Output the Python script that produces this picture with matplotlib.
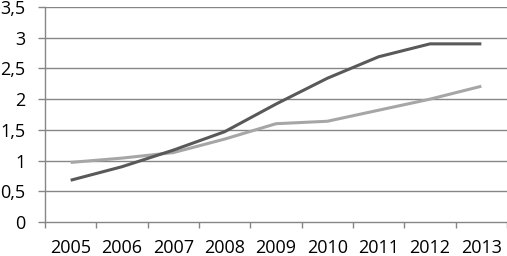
import matplotlib
matplotlib.use("Agg")
import matplotlib.pyplot as plt
from matplotlib.ticker import FixedLocator

years = ["2005", "2006", "2007", "2008", "2009", "2010", "2011", "2012", "2013"]
dark_series = [0.68, 0.90, 1.17, 1.47, 1.92, 2.34, 2.69, 2.90, 2.90]
light_series = [0.97, 1.04, 1.13, 1.35, 1.60, 1.64, 1.82, 2.00, 2.21]
y_ticks = [0, 0.5, 1, 1.5, 2, 2.5, 3, 3.5]
y_labels = ["0", "0,5", "1", "1,5", "2", "2,5", "3", "3,5"]

plt.rcParams['font.family'] = ['Open Sans', 'DejaVu Sans']
fig = plt.figure(figsize=(5.07, 2.56), dpi=100)
ax = fig.add_axes([45/507, 34/256, 462/507, 215/256])

x = list(range(len(years)))
ax.plot(x, light_series, color="#a6a6a6", lw=2.2, solid_capstyle="butt", zorder=3)
ax.plot(x, dark_series, color="#595959", lw=2.2, solid_capstyle="butt", zorder=4)

ax.set_xlim(-0.5, len(years) - 0.5)
ax.set_ylim(0, 3.5)
ax.set_yticks(y_ticks)
ax.set_yticklabels(y_labels)
ax.set_xticks(x)
ax.set_xticklabels(years)
ax.xaxis.set_minor_locator(FixedLocator([i - 0.5 for i in range(len(years) + 1)]))

for yv in y_ticks[1:]:
    ax.axhline(yv, color="#868686", lw=1.0, zorder=1)

for s in ["top", "right"]:
    ax.spines[s].set_visible(False)
for s in ["left", "bottom"]:
    ax.spines[s].set_color("#868686")
    ax.spines[s].set_linewidth(1.0)

ax.tick_params(axis="y", which="major", length=5, width=1.0, color="#868686", pad=9, labelsize=13, labelcolor="black")
ax.tick_params(axis="x", which="major", length=0, pad=12, labelsize=13, labelcolor="black")
ax.tick_params(axis="x", which="minor", length=4.5, width=1.0, color="#868686")

fig.savefig("out.png", dpi=100)
